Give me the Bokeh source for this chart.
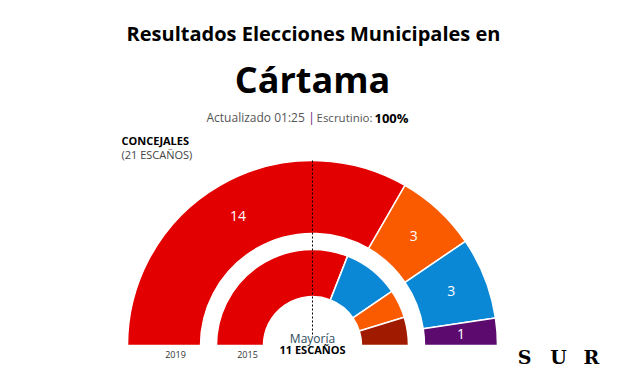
import math
from bokeh.plotting import figure
from bokeh.models import Range1d, ColumnDataSource
from bokeh.core.properties import value
from bokeh.embed import file_html
from bokeh.resources import INLINE

# ---- data ----
total_seats = 21
majority = 11
seats_2019 = [14, 3, 3, 1]
colors_2019 = ["#e20000", "#fa5a00", "#0a88d6", "#5c0a6e"]
seats_2015 = [13, 4, 2, 2]
colors_2015 = ["#e20000", "#0a88d6", "#fa5a00", "#a01a00"]
label_2019 = ["14", "3", "3", "1"]
years = ["2019", "2015"]

W, H = 608, 369
p = figure(width=W, height=H, output_backend="svg", toolbar_location=None,
           x_range=Range1d(0, 608), y_range=Range1d(16, 385),
           min_border=0)
p.axis.visible = False
p.grid.visible = False
p.outline_line_color = None
p.background_fill_color = "white"
p.border_fill_color = "white"

def Y(sy):
    return 385 - sy

cx, cy = 312, Y(345)

def ring(seats, colors, r_in, r_out, labels=None, lab_r=None):
    starts, ends, xs, ys = [], [], [], []
    a = math.pi
    for s in seats:
        e = a - s / total_seats * math.pi
        starts.append(e)
        ends.append(a)
        m = (a + e) / 2
        if lab_r:
            xs.append(cx + lab_r * math.cos(m))
            ys.append(cy + lab_r * math.sin(m))
        a = e
    src = ColumnDataSource(dict(s=starts, e=ends, c=colors))
    p.annular_wedge(x=cx, y=cy, inner_radius=r_in, outer_radius=r_out,
                    start_angle="s", end_angle="e", fill_color="c",
                    line_color="white", line_width=1.5, source=src)
    if labels:
        p.text(x=xs, y=ys, text=labels, text_color="white",
               text_font=value("Open Sans"), text_font_size="14px",
               text_font_style="normal", text_align="center", text_baseline="middle")

ring(seats_2019, colors_2019, 112, 185, label_2019, 149)
ring(seats_2015, colors_2015, 49, 96)

# majority line
p.segment(x0=cx, y0=Y(160), x1=cx, y1=Y(334), line_color="black",
          line_width=1, line_dash="2 2")

def txt(x, sy, t, size, color="black", style="normal", align="center",
        font="Open Sans", baseline="middle"):
    p.text(x=[x], y=[Y(sy)], text=[t], text_color=color,
           text_font=value(font), text_font_size=size, text_font_style=style,
           text_align=align, text_baseline=baseline)

txt(312, 338, "Mayoría", "12px", color="#2d4b5a")
txt(312, 349, f"{majority} ESCAÑOS", "11px", style="bold")
txt(175, 354, years[0], "9px", color="#333333")
txt(247, 354, years[1], "9px", color="#333333")

# titles
txt(313, 33, "Resultados Elecciones Municipales en", "20px", style="bold")
txt(312, 79, "Cártama", "36px", style="bold")
txt(206, 117, "Actualizado 01:25", "12px", color="#555555", align="left")
txt(311, 117, "|", "12px", color="#6a1a7a", align="center")
txt(316, 117, "Escrutinio:", "11.5px", color="#555555", align="left")
txt(374, 117, "100%", "13px", style="bold", align="left")

txt(121, 140, "CONCEJALES", "11px", style="bold", align="left")
txt(121, 154, "(21 ESCAÑOS)", "11px", color="#444444", align="left")

# logo
for lx, l in zip([524, 558, 591], ["S", "U", "R"]):
    txt(lx, 356, l, "19px", style="bold", font="DejaVu Serif", baseline="middle")

open("out.html", "w").write(file_html(p, INLINE))
